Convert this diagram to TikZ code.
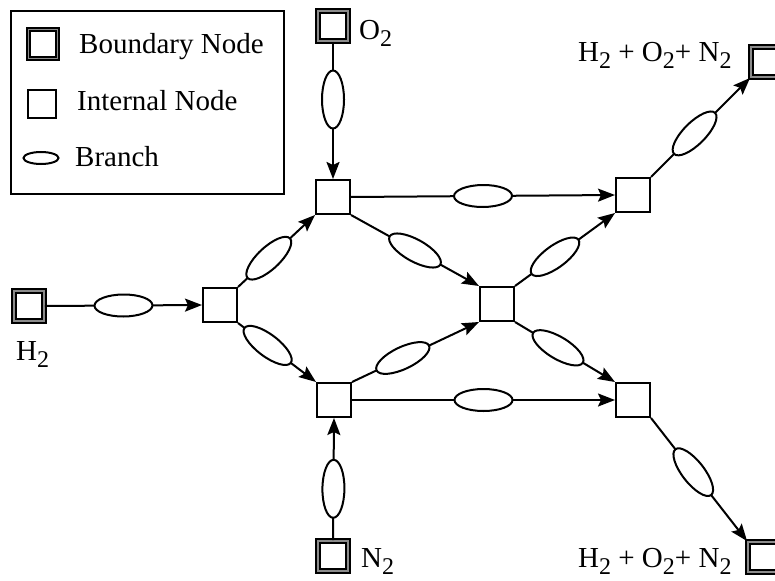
\documentclass[tikz,border=0pt]{standalone}
\usepackage{fontspec}
\setmainfont{Liberation Serif}
\usetikzlibrary{shapes.geometric,arrows.meta}
\newcommand\subtwo{\raisebox{-7pt}{\fontsize{24}{24}\selectfont 2}}
\begin{document}
\begin{tikzpicture}[x=1pt,y=-1pt,
  inode/.style={draw,line width=2pt,minimum size=34pt,inner sep=0pt,fill=white},
  bnode/.style={draw,line width=1.9pt,double=black!45,double distance=1.3pt,minimum size=30pt,inner sep=0pt,fill=white},
  br/.style={draw,ellipse,line width=2pt,fill=white,minimum width=58pt,minimum height=22pt,inner sep=0pt,sloped},
  arr/.style={line width=2pt,-{Stealth[length=17pt,width=13pt,inset=3pt]}},
  lab/.style={font=\fontsize{29}{34}\selectfont,anchor=base west,inner sep=0pt}]
\useasboundingbox (0,0) rectangle (775,580);
% legend
\node[draw,line width=1.8pt,minimum width=273pt,minimum height=183pt,anchor=north west,inner sep=0pt] (legend) at (10,10) {};
\node[bnode,minimum size=29pt] (lb) at (43,44) {};
\node[inode,minimum size=28pt] (li) at (42,104) {};
\node[draw,ellipse,line width=2pt,minimum width=35pt,minimum height=12pt,inner sep=0pt] (le) at (41,158) {};
\node[lab] (lbt) at (79,54) {Boundary Node};
\node[lab] (lit) at (77,111) {Internal Node};
\node[lab] (let) at (75,166) {Branch};
% nodes
\node[bnode] (O) at (333,26) {};
\node[bnode] (H) at (29,306) {};
\node[bnode] (N) at (333,556) {};
\node[bnode] (TRb) at (766,62) {};
\node[bnode] (BRb) at (763,557) {};
\node[inode] (L) at (220,305) {};
\node[inode] (T) at (333,197) {};
\node[inode] (B) at (334,400) {};
\node[inode] (C) at (497,304) {};
\node[inode] (TR) at (633,195) {};
\node[inode] (BR) at (633,400) {};
% labels
\node[lab] (Ol) at (359,40) {O\subtwo};
\node[lab] (Hl) at (16,360) {H\subtwo};
\node[lab] (Nl) at (361,567) {N\subtwo};
\node[lab] (TRl) at (578,62) {H\subtwo{} + O\subtwo+ N\subtwo};
\node[lab] (BRl) at (578,567) {H\subtwo{} + O\subtwo+ N\subtwo};
% connectors
\draw[arr] (O.south) -- node[br,pos=0.42] (e1) {} (T.north);
\draw[arr] (H.east) -- node[br,pos=0.5] (e2) {} (L.west);
\draw[arr] (N.north) -- node[br,pos=0.42] (e3) {} (B.south);
\draw[arr] (L.north east) -- node[br,pos=0.4] (e4) {} (T.south west);
\draw[arr] (L.south east) -- node[br,pos=0.38] (e5) {} (B.north west);
\draw[arr] (T.east) -- node[br,pos=0.5] (e6) {} (TR.west);
\draw[arr] (T.south east) -- node[br,pos=0.5] (e7) {} (C.north west);
\draw[arr] (B.north east) -- node[br,pos=0.4] (e8) {} (C.south west);
\draw[arr] (B.east) -- node[br,pos=0.5] (e9) {} (BR.west);
\draw[arr] (C.north east) -- node[br,pos=0.4] (e10) {} (TR.south west);
\draw[arr] (C.south east) -- node[br,pos=0.43] (e11) {} (BR.north west);
\draw[arr] (TR.north east) -- node[br,pos=0.44] (e12) {} (TRb.south west);
\draw[arr] (BR.south east) -- node[br,pos=0.44] (e13) {} (BRb.north west);
\end{tikzpicture}
\end{document}
